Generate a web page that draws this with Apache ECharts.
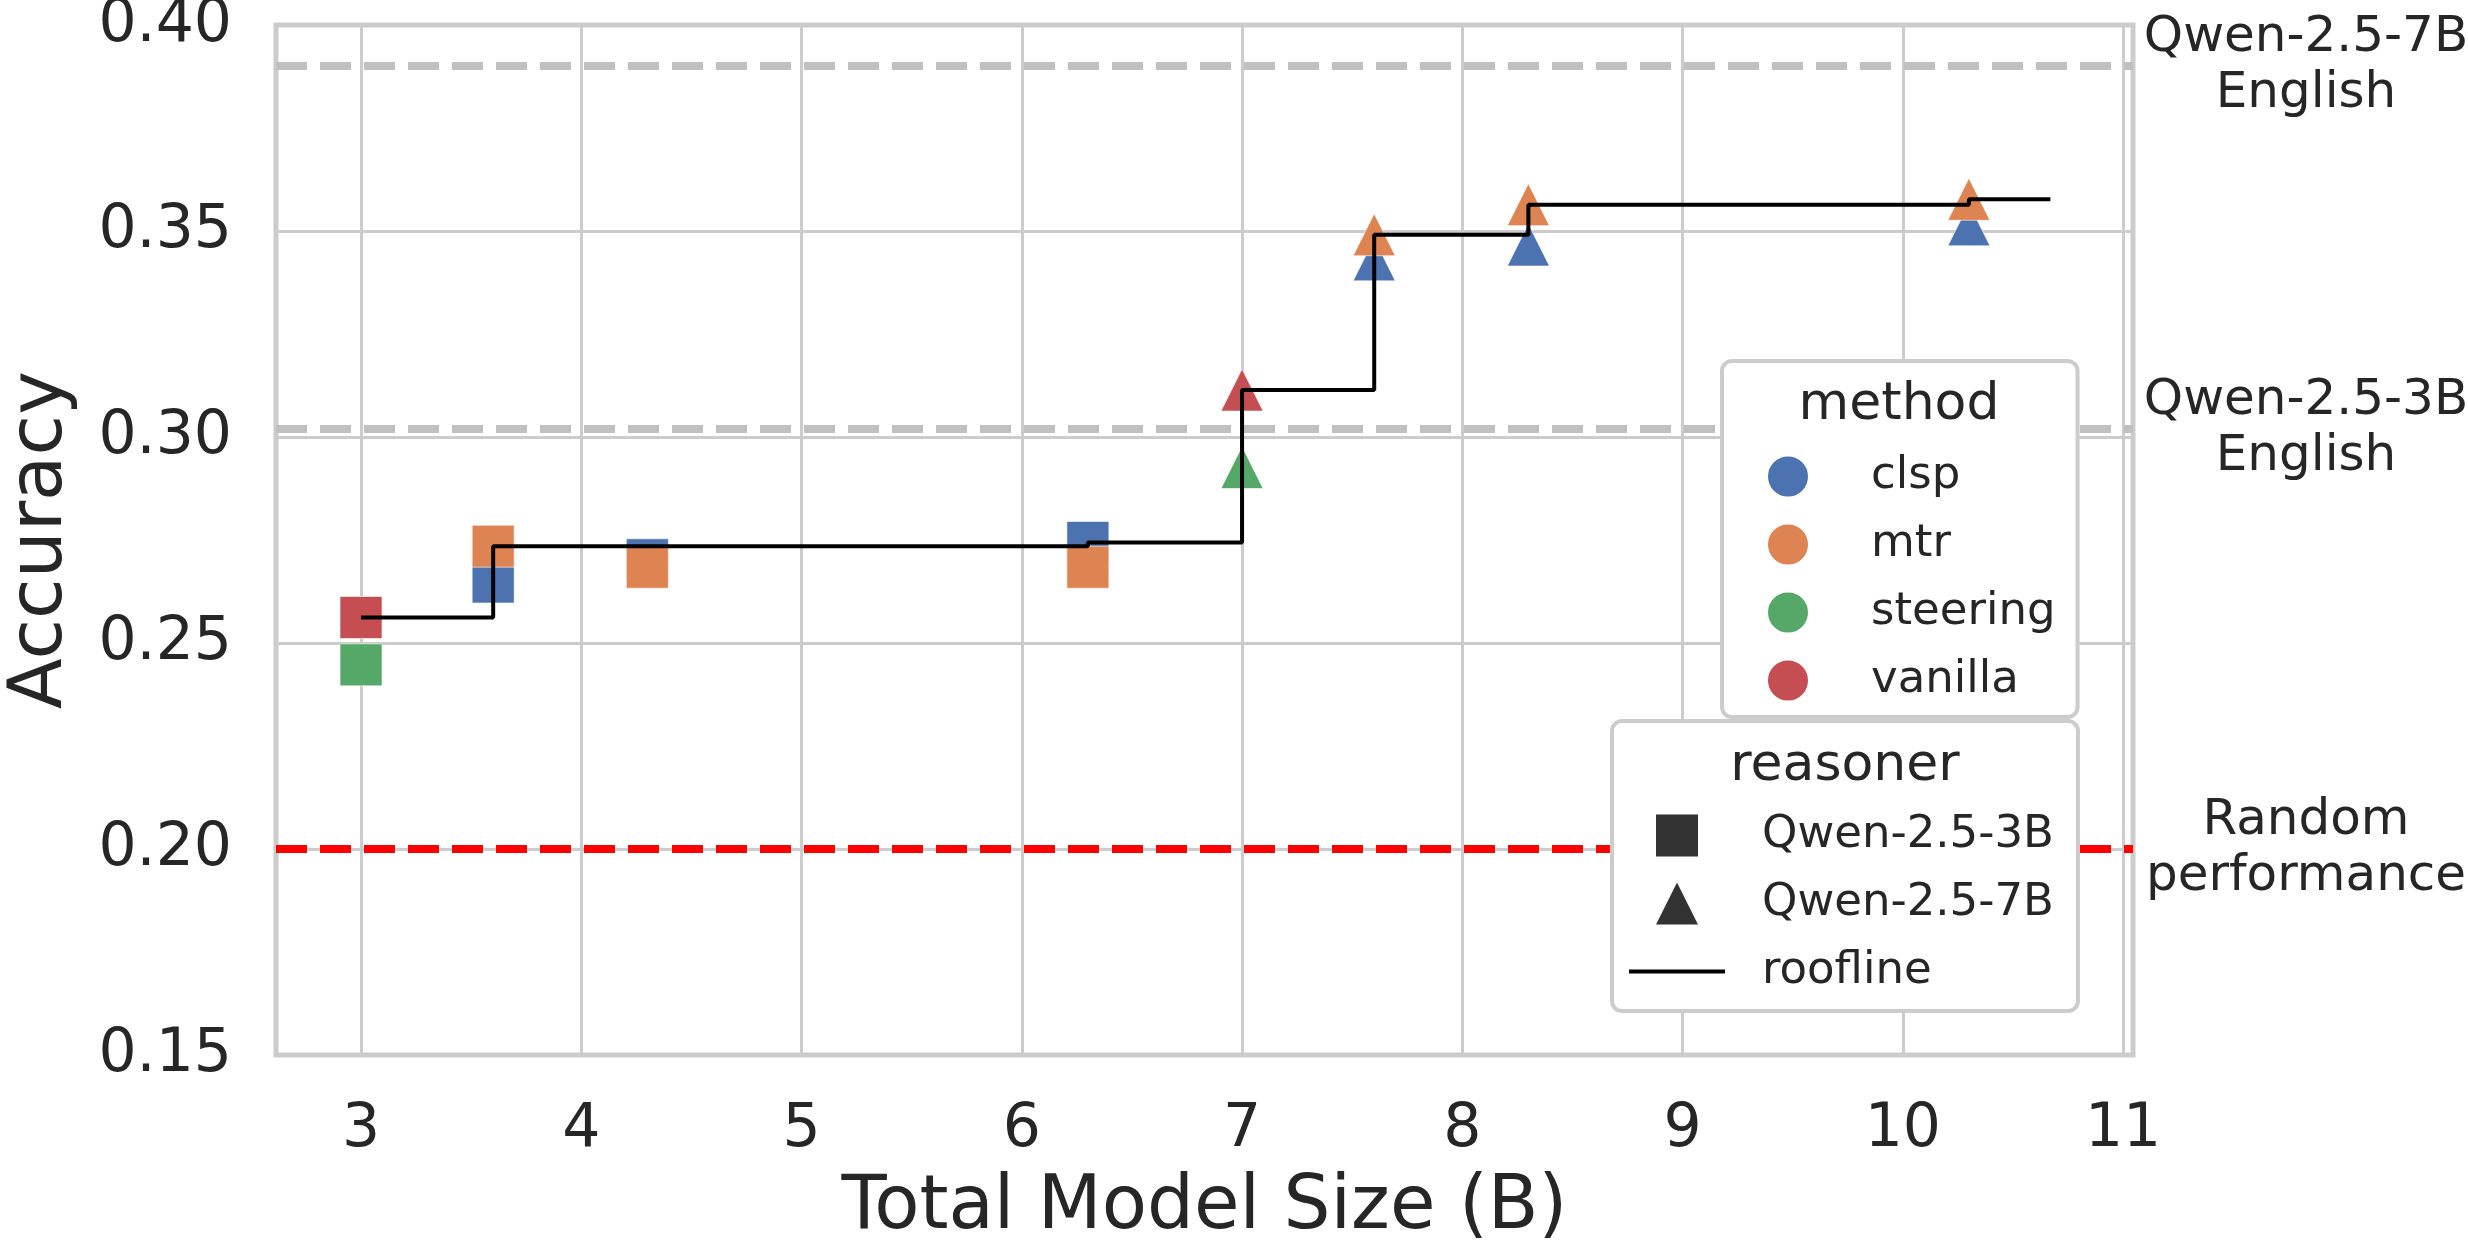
<!DOCTYPE html>
<html>
<head>
<meta charset="utf-8">
<script src="https://cdn.jsdelivr.net/npm/echarts@6/dist/echarts.min.js"></script>
<style>
  html, body { margin: 0; padding: 0; background: #fff; }
  #main { width: 2468px; height: 1242px; }
</style>
</head>
<body>
<div id="main"></div>
<script>
// --- data ---
var methods = ['clsp', 'mtr', 'steering', 'vanilla'];
var methodColors = ['#4c72b0', '#dd8452', '#55a868', '#c44e52'];

// reasoner Qwen-2.5-3B (squares): [size, accuracy]
var pts3B = {
    clsp: [[3.6, 0.2648], [4.3, 0.2702], [6.3, 0.2744]],
    mtr: [[3.6, 0.2735], [4.3, 0.2684], [6.3, 0.2684]],
    steering: [[3.0, 0.2447]],
    vanilla: [[3.0, 0.2562]]
};
// reasoner Qwen-2.5-7B (triangles)
var pts7B = {
    clsp: [[7.6, 0.3430], [8.3, 0.3466], [10.3, 0.3515]],
    mtr: [[7.6, 0.3491], [8.3, 0.3564], [10.3, 0.3577]],
    steering: [[7.0, 0.2926]],
    vanilla: [[7.0, 0.3114]]
};
var roofline = [[3.0, 0.2562], [3.6, 0.2735], [6.3, 0.2744], [7.0, 0.3114],
                [7.6, 0.3491], [8.3, 0.3564], [10.3, 0.3577], [10.67, 0.3577]];

var refLines = [
    { value: 0.390, text: 'Qwen-2.5-7B\nEnglish', color: '#c0c0c0' },
    { value: 0.302, text: 'Qwen-2.5-3B\nEnglish', color: '#c0c0c0' },
    { value: 0.200, text: 'Random\nperformance', color: '#ff0000' }
];
var xTicks = [3, 4, 5, 6, 7, 8, 9, 10, 11];

var FONT = 'DejaVu Sans';
var TXT = '#262626';

var chart = echarts.init(document.getElementById('main'));

var series = [];
methods.forEach(function (m, i) {
    series.push({
        name: m, type: 'scatter', symbol: 'rect', symbolSize: 42,
        itemStyle: { color: methodColors[i], opacity: 1, borderColor: '#fff', borderWidth: 0.6 },
        data: pts3B[m], z: 3
    });
});
methods.forEach(function (m, i) {
    series.push({
        name: m, type: 'scatter', symbol: 'triangle', symbolSize: 42,
        itemStyle: { color: methodColors[i], opacity: 1, borderColor: '#fff', borderWidth: 0.6 },
        data: pts7B[m], z: 3
    });
});
// legend-only entries for the reasoner shapes
series.push({ name: 'Qwen-2.5-3B', type: 'scatter', itemStyle: { color: '#333', opacity: 1 }, data: [] });
series.push({ name: 'Qwen-2.5-7B', type: 'scatter', itemStyle: { color: '#333', opacity: 1 }, data: [] });
series.push({
    name: 'roofline', type: 'line', step: 'end', data: roofline,
    showSymbol: false, symbol: 'none', z: 5,
    lineStyle: { color: '#000', width: 4 },
    itemStyle: { color: '#000' }
});
series.push({
    name: 'refs', type: 'line', data: [], z: 2, silent: true,
    markLine: {
        silent: true, symbol: 'none', precision: 4,
        data: refLines.map(function (r) {
            return {
                yAxis: r.value,
                lineStyle: { color: r.color, width: 8, type: [31, 13] },
                label: {
                    show: true, position: 'end', formatter: r.text, distance: [173, 0],
                    align: 'center', verticalAlign: 'middle',
                    fontFamily: FONT, fontSize: 50, lineHeight: 56, color: TXT
                }
            };
        })
    }
});

var legendBox = {
    orient: 'vertical', backgroundColor: '#fff', borderColor: '#cccccc',
    borderWidth: 4, borderRadius: 10, itemHeight: 42, itemGap: 23,
    symbolKeepAspect: true, z: 20
};

var option = {
    animation: false,
    backgroundColor: '#fff',
    grid: {
        left: 276, right: 335, top: 25, bottom: 187,
        show: true, borderColor: '#cccccc', borderWidth: 5,
        outerBoundsMode: 'none'
    },
    xAxis: {
        type: 'value', min: 2.614, max: 11.045,
        name: 'Total Model Size (B)', nameLocation: 'middle', nameGap: 117,
        nameTextStyle: { fontFamily: FONT, fontSize: 74, color: TXT },
        axisLine: { show: false },
        axisTick: { show: false, customValues: xTicks },
        axisLabel: { customValues: xTicks, margin: 45, fontFamily: FONT, fontSize: 60, color: TXT },
        splitLine: { show: true, lineStyle: { color: '#cccccc', width: 3 } }
    },
    yAxis: {
        type: 'value', min: 0.15, max: 0.40, interval: 0.05,
        name: 'Accuracy', nameLocation: 'middle', nameGap: 197,
        nameTextStyle: { fontFamily: FONT, fontSize: 74, color: TXT },
        axisLine: { show: false },
        axisTick: { show: false },
        axisLabel: {
            margin: 44, fontFamily: FONT, fontSize: 60, color: TXT,
            formatter: function (v) { return v.toFixed(2); }
        },
        splitLine: { show: true, lineStyle: { color: '#cccccc', width: 3 } }
    },
    legend: [
        Object.assign({}, legendBox, {
            left: 1722, top: 361,
            padding: [93, 22, 14, 44],
            itemWidth: 42,
            data: methods.map(function (m) { return { name: m, icon: 'circle' }; }),
            textStyle: { fontFamily: FONT, fontSize: 45, color: TXT, padding: [0, 0, 0, 57] }
        }),
        Object.assign({}, legendBox, {
            left: 1612, top: 721,
            padding: [92, 24, 17, 17],
            itemWidth: 96,
            data: [
                { name: 'Qwen-2.5-3B', icon: 'path://M0,0L1,0L1,1L0,1Z' },
                { name: 'Qwen-2.5-7B', icon: 'path://M0.5,0L1,1L0,1Z' },
                { name: 'roofline', icon: 'path://M0,0L96,0L96,4L0,4Z' }
            ],
            textStyle: { fontFamily: FONT, fontSize: 45, color: TXT, padding: [0, 0, 0, 32] }
        })
    ],
    graphic: [
        { type: 'text', x: 1899, y: 405, z: 100,
          style: { text: 'method', font: '52px "DejaVu Sans"', fill: TXT, align: 'center', verticalAlign: 'middle' } },
        { type: 'text', x: 1845, y: 766, z: 100,
          style: { text: 'reasoner', font: '52px "DejaVu Sans"', fill: TXT, align: 'center', verticalAlign: 'middle' } }
    ],
    series: series
};

chart.setOption(option);
</script>
</body>
</html>
